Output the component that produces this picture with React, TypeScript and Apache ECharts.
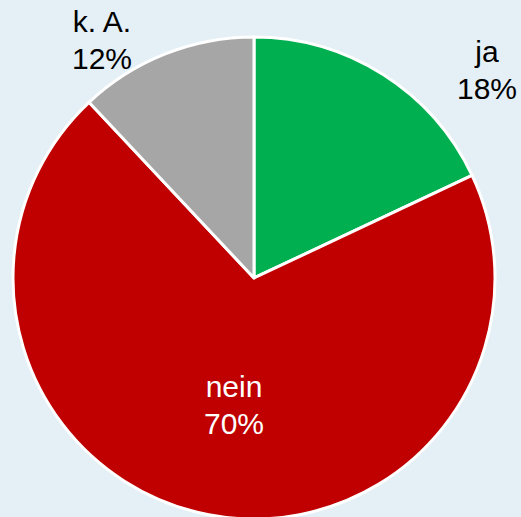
import React, { useEffect, useRef } from "react";
import * as echarts from "echarts";

const categories = ["ja", "nein", "k. A."];
const values = [18, 70, 12];
const colors = ["#00B050", "#C00000", "#A6A6A6"];
const labelPositions = [
  [487, 70],
  [234, 405],
  [102, 40],
];

export default function App() {
  const ref = useRef<HTMLDivElement>(null);
  useEffect(() => {
    document.body.style.margin = "0";
    const chart = echarts.init(ref.current!, null, { renderer: "svg" });
    chart.setOption({
      animation: false,
      backgroundColor: "#E4EFF6",
      series: [
        {
          type: "pie",
          center: [254, 278],
          radius: [0, 241],
          startAngle: 90,
          clockwise: true,
          label: {
            show: true,
            position: "outside",
            formatter: "{b}\n{d}%",
            fontFamily: "Liberation Sans, Arial, sans-serif",
            fontSize: 30,
            lineHeight: 37,
            color: "#000",
            align: "center",
          },
          labelLine: { show: false },
          labelLayout: (p: any) => ({
            x: labelPositions[p.dataIndex][0],
            y: labelPositions[p.dataIndex][1],
            align: "center",
            verticalAlign: "middle",
          }),
          itemStyle: { borderColor: "#FFFFFF", borderWidth: 3 },
          emphasis: { disabled: true },
          data: categories.map((c, i) => ({
            name: c,
            value: values[i],
            itemStyle: { color: colors[i] },
            label: i === 1 ? { position: "inside", color: "#FFFFFF" } : {},
          })),
        },
      ],
    });
    return () => chart.dispose();
  }, []);
  return <div ref={ref} style={{ width: 521, height: 517 }} />;
}
